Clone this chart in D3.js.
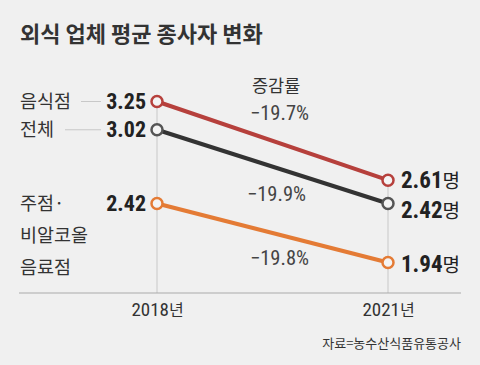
<!DOCTYPE html>
<html><head><meta charset="utf-8">
<script src="https://cdn.jsdelivr.net/npm/d3@7"></script>
<style>
html,body{margin:0;padding:0;background:#f0f0f0;}
svg{display:block;}
.kr{font-family:"Noto Sans CJK KR","Noto Sans",sans-serif;}
.num{font-family:"Liberation Sans Narrow","Roboto Condensed","Liberation Sans",sans-serif;}
</style></head>
<body>
<script>
const years = ["2018년", "2021년"];
const categories = ["음식점", "전체", "주점·비알코올 음료점"];
const values2018 = [3.25, 3.02, 2.42];
const values2021 = [2.61, 2.42, 1.94];
const changes = ["−19.7%", "−19.9%", "−19.8%"];
const colors = ["#b6403c", "#333333", "#e47b35"];

const W = 480, H = 365;
const svg = d3.select("body").append("svg").attr("width", W).attr("height", H);
svg.append("rect").attr("width", W).attr("height", H).attr("fill", "#f0f0f0");

const x = d3.scalePoint().domain(years).range([157, 388]);
const y = d3.scaleLinear().domain([1.94, 3.25]).range([262.5, 101.5]);
const axisY = 293;

// title
svg.append("text").attr("class", "kr").attr("x", 20).attr("y", 42)
  .attr("font-size", 22).attr("font-weight", "bold").attr("fill", "#333")
  .text("외식 업체 평균 종사자 변화");

// vertical gridlines
years.forEach((yr, i) => {
  const vals = i === 0 ? values2018 : values2021;
  svg.append("line").attr("x1", x(yr)).attr("x2", x(yr))
    .attr("y1", y(d3.max(vals))).attr("y2", axisY)
    .attr("stroke", "#c8c8c8").attr("stroke-width", 1);
});

// baseline axis
const xAxis = d3.axisBottom(x).tickSize(0).tickPadding(10);
const gx = svg.append("g").attr("transform", `translate(0,${axisY})`).call(xAxis);
gx.select(".domain").remove();
gx.selectAll("text").attr("font-size", 19).attr("fill", "#333").attr("dy", "0.71em");
gx.selectAll("text").each(function(d){
  const t = d3.select(this); t.text(null).attr("font-family", null);
  t.append("tspan").attr("class","num").text(d.replace("년",""));
  t.append("tspan").attr("class","kr").attr("font-size",16).text("년");
});
svg.append("line").attr("x1", 19).attr("x2", 461).attr("y1", axisY).attr("y2", axisY)
  .attr("stroke", "#aaa").attr("stroke-width", 1.2);

// lines and points
categories.forEach((c, i) => {
  svg.append("line")
    .attr("x1", x(years[0])).attr("y1", y(values2018[i]))
    .attr("x2", x(years[1])).attr("y2", y(values2021[i]))
    .attr("stroke", colors[i]).attr("stroke-width", 4);
});
categories.forEach((c, i) => {
  [[years[0], values2018[i]], [years[1], values2021[i]]].forEach(([yr, v]) => {
    svg.append("circle").attr("cx", x(yr)).attr("cy", y(v)).attr("r", 5.5)
      .attr("fill", "#f4f4f4").attr("stroke", colors[i] === "#333333" ? "#555" : colors[i]).attr("stroke-width", 2.5);
  });
});

// left category labels
const leftLabels = [["음식점"], ["전체"], ["주점·", "비알코올", "음료점"]];
leftLabels.forEach((lines, i) => {
  const baseY = y(values2018[i]) + 6.5;
  lines.forEach((t, j) => {
    svg.append("text").attr("class", "kr").attr("x", 20).attr("y", baseY + j * 32)
      .attr("font-size", 18.5).attr("fill", "#333").text(t);
  });
});
// connector lines
svg.append("line").attr("x1", 81).attr("x2", 101).attr("y1", y(values2018[0])).attr("y2", y(values2018[0]))
  .attr("stroke", "#c8c8c8");
svg.append("line").attr("x1", 65).attr("x2", 101).attr("y1", y(values2018[1])).attr("y2", y(values2018[1]))
  .attr("stroke", "#c8c8c8");

// left values
values2018.forEach((v, i) => {
  svg.append("text").attr("class", "num").attr("x", 146).attr("y", y(v) + 7.5)
    .attr("text-anchor", "end").attr("font-size", 22).attr("font-weight", "bold")
    .attr("fill", "#222").text(v.toFixed(2));
});

// right values
const rightDy = [7.5, 14, 9.5];
values2021.forEach((v, i) => {
  const t = svg.append("text").attr("x", 401).attr("y", y(v) + rightDy[i]).attr("fill", "#222");
  t.append("tspan").attr("class", "num").attr("font-size", 23).attr("font-weight", "bold").text(v.toFixed(2));
  t.append("tspan").attr("class", "kr").attr("font-size", 19).text("명");
});

// change rate
svg.append("text").attr("class", "kr").attr("x", 252).attr("y", 92)
  .attr("font-size", 17.5).attr("fill", "#333").text("증감률");
const changeY = [120, 201, 265];
const changeX = [250, 247, 250];
changes.forEach((c, i) => {
  svg.append("text").attr("class", "num").attr("x", changeX[i]).attr("y", changeY[i])
    .attr("font-size", 20.5).attr("fill", "#444").text(c);
});

// source
svg.append("text").attr("class", "kr").attr("x", 461).attr("y", 348)
  .attr("text-anchor", "end").attr("font-size", 13).attr("fill", "#333")
  .text("자료=농수산식품유통공사");
</script>
</body></html>
